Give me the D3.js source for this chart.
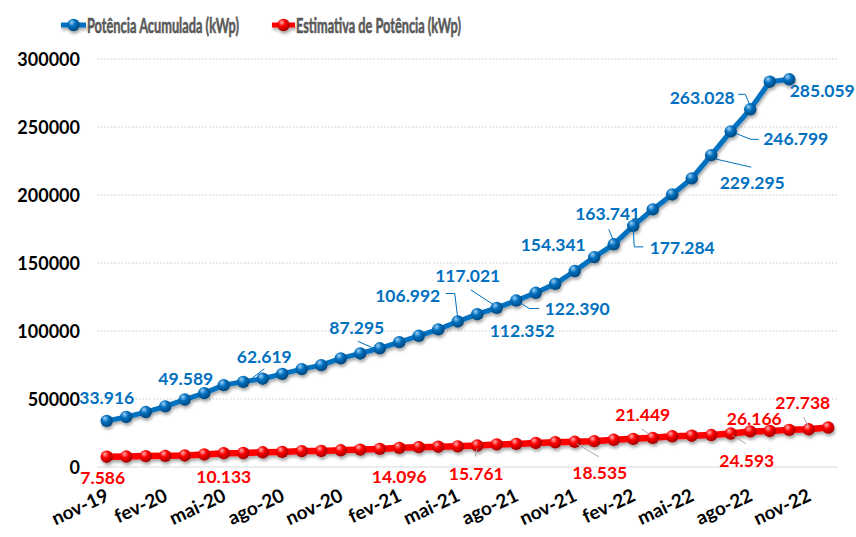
<!DOCTYPE html>
<html><head><meta charset="utf-8">
<script src="https://cdn.jsdelivr.net/npm/d3@7"></script>
<style>
html,body{margin:0;padding:0;background:#fff;}
svg{display:block;font-family:Lato,"Open Sans",sans-serif;}
</style></head>
<body><svg id="c" width="856" height="537"></svg>
<script>
const months = ["nov-19","dez-19","jan-20","fev-20","mar-20","abr-20","mai-20","jun-20","jul-20","ago-20","set-20","out-20",
"nov-20","dez-20","jan-21","fev-21","mar-21","abr-21","mai-21","jun-21","jul-21","ago-21","set-21","out-21",
"nov-21","dez-21","jan-22","fev-22","mar-22","abr-22","mai-22","jun-22","jul-22","ago-22","set-22","out-22","nov-22","dez-22"];
const seriesNames = ["Potência Acumulada (kWp)", "Estimativa de Potência (kWp)"];
const potenciaAcumulada = [33916,36800,40400,44600,49589,54300,60200,62619,64900,68500,72000,74900,
79900,83500,87295,91800,96500,101200,106992,112352,117021,122390,128100,134700,
144100,154341,163741,177284,189400,200400,212200,229295,246799,263028,283300,285059];
const estimativaPotencia = [7586,7700,8000,8200,8500,9200,10133,10300,10800,11100,11700,11800,
12300,12800,13300,14096,14600,14900,15200,15761,16600,17000,17700,18200,
18535,19000,20000,20700,21449,22600,23000,23500,24593,26166,26500,27300,27738,29000];
const yTicks = [0,50000,100000,150000,200000,250000,300000];
const tickMonths = months.filter((d,i)=>i%3===0);
const blueLabelIdx = [0,4,7,14,18,19,20,21,25,26,27,31,32,33,35];
const redLabelIdx = [0,6,15,19,24,28,32,33,36];

// label layout (pixel offsets from the point: label centre, optional leader polyline)
const blueLayout = {
 0:{dx:0,dy:-23}, 4:{dx:1,dy:-21}, 7:{dx:21,dy:-25,ld:[[21,-13],[8,-3]]},
 14:{dx:-23,dy:-20,ld:[[-22,-7],[-6,0]]}, 18:{dx:-50,dy:-26,ld:[[-12,-28],[-3,-28],[0,-3]]},
 19:{dx:45,dy:17}, 20:{dx:-29,dy:-32,ld:[[-26,-18],[-3,-3]]},
 21:{dx:61,dy:8,ld:[[23,8],[13,8],[2,1]]}, 25:{dx:-41,dy:-12},
 26:{dx:-6,dy:-30,ld:[[-5,-15],[0,-3]]}, 27:{dx:49,dy:22,ld:[[0,3],[1,21],[10,21]]},
 31:{dx:41,dy:28,ld:[[40,12],[5,4]]}, 32:{dx:65,dy:8,ld:[[28,8],[20,8],[5,2]]},
 33:{dx:-48,dy:-11,ld:[[-12,-15],[-5,-15],[0,-3]]}, 35:{dx:33,dy:12}
};
const redLayout = {
 0:{dx:-4,dy:21}, 6:{dx:0,dy:24}, 15:{dx:0,dy:29}, 19:{dx:-1,dy:28,ld:[[-2,11],[0,3]]},
 24:{dx:25,dy:31,ld:[[24,15],[2,2]]}, 28:{dx:-10,dy:-23,ld:[[-11,-9],[-3,-3]]},
 32:{dx:16,dy:27,ld:[[15,10],[2,2]]}, 33:{dx:4,dy:-13}, 36:{dx:-6,dy:-26,ld:[[-5,-12],[0,-2]]}
};

const BLUE = "#0070C0", RED = "#FF0000";
const svg = d3.select("#c");
const loc = d3.formatLocale({decimal:",", thousands:".", grouping:[3], currency:["R$",""]});
const fmt = loc.format(",.0f");

const x = d3.scalePoint().domain(months).range([97, 838]).padding(0.5);
const y = d3.scaleLinear().domain([0, 300000]).range([467, 59]);

// defs
const defs = svg.append("defs");
function grad(id, light, base, dark){
  const g = defs.append("radialGradient").attr("id", id).attr("cx","40%").attr("cy","35%").attr("r","65%").attr("fx","35%").attr("fy","28%");
  g.append("stop").attr("offset","0%").attr("stop-color", light);
  g.append("stop").attr("offset","45%").attr("stop-color", base);
  g.append("stop").attr("offset","100%").attr("stop-color", dark);
}
grad("gb", "#9fd0f5", BLUE, "#00467a");
grad("gr", "#ffb0b0", RED, "#a00000");
const f = defs.append("filter").attr("id","sh").attr("x","-20%").attr("y","-20%").attr("width","140%").attr("height","160%");
f.append("feDropShadow").attr("dx",1).attr("dy",2.5).attr("stdDeviation",1.6).attr("flood-color","#000").attr("flood-opacity",0.35);

// gridlines
svg.append("g").selectAll("line").data(yTicks.filter(d=>d>0)).join("line")
  .attr("x1",97).attr("x2",838).attr("y1",d=>y(d)).attr("y2",d=>y(d))
  .attr("stroke","#c8c8c8").attr("stroke-width",1).attr("stroke-dasharray","1.5,2");
svg.append("line").attr("x1",97).attr("x2",838).attr("y1",y(0)).attr("y2",y(0))
  .attr("stroke","#d9d9d9").attr("stroke-width",1);

// y axis
const ya = svg.append("g").attr("transform","translate(80,0)")
  .call(d3.axisLeft(y).tickValues(yTicks).tickFormat(d3.format("d")).tickSize(0).tickPadding(0));
ya.select(".domain").remove();
ya.selectAll("text").attr("font-family","Lato,sans-serif").attr("font-weight","bold").attr("font-size","18px").attr("fill","#000").attr("dy","0.35em");

// x axis
const xa = svg.append("g").attr("transform","translate(0,467)")
  .call(d3.axisBottom(x).tickValues(tickMonths).tickSize(0).tickPadding(0));
xa.select(".domain").remove();
xa.selectAll("text").attr("font-family","Lato,sans-serif").attr("font-weight","bold").attr("font-size","19px").attr("fill","#000")
  .attr("text-anchor","end").attr("y",0).attr("dy",0)
  .attr("transform","translate(3,33) rotate(-25)");

// series
function drawSeries(values, color, gradId, width, cls){
  const g = svg.append("g").attr("class",cls).attr("filter","url(#sh)");
  const line = d3.line().x((d,i)=>x(months[i])).y(d=>y(d));
  g.append("path").datum(values).attr("d", line).attr("fill","none").attr("stroke",color)
    .attr("stroke-width",width).attr("stroke-linejoin","round").attr("stroke-linecap","round");
  g.selectAll("circle").data(values).join("circle")
    .attr("cx",(d,i)=>x(months[i])).attr("cy",d=>y(d)).attr("r",6.2)
    .attr("fill",`url(#${gradId})`);
}
drawSeries(estimativaPotencia, RED, "gr", 6.5, "red");
drawSeries(potenciaAcumulada, BLUE, "gb", 5, "blue");

function drawLabels(values, idxs, layout, color, leaderColor){
  const g = svg.append("g");
  idxs.forEach(i=>{
    const px = x(months[i]), py = y(values[i]);
    const L = layout[i];
    if (L.ld){
      g.append("polyline").attr("points", L.ld.map(p=>[px+p[0], py+p[1]].join(",")).join(" "))
        .attr("fill","none").attr("stroke",leaderColor).attr("stroke-width",1);
    }
    g.append("text").attr("x", px+L.dx).attr("y", py+L.dy).attr("dy","0.35em")
      .attr("text-anchor","middle").attr("font-family","Lato,sans-serif").attr("font-weight","bold")
      .attr("font-size","17.5px").attr("fill",color).text(fmt(values[i]));
  });
}
drawLabels(potenciaAcumulada, blueLabelIdx, blueLayout, BLUE, BLUE);
drawLabels(estimativaPotencia, redLabelIdx, redLayout, RED, "#a6a6a6");

// legend
const legendItems = [
  {name: seriesNames[0], color: BLUE, grad:"gb", x1:61, x2:86, tw:152},
  {name: seriesNames[1], color: RED, grad:"gr", x1:272, x2:295, tw:165}
];
const lg = svg.append("g");
legendItems.forEach(it=>{
  const gg = lg.append("g").attr("filter","url(#sh)");
  gg.append("line").attr("x1",it.x1).attr("x2",it.x2).attr("y1",25).attr("y2",25)
    .attr("stroke",it.color).attr("stroke-width",5);
  gg.append("circle").attr("cx",(it.x1+it.x2)/2).attr("cy",25).attr("r",6.2).attr("fill",`url(#${it.grad})`);
  const t = lg.append("text").attr("x",0).attr("y",0).attr("dy","0.36em")
    .attr("font-family","Lato,sans-serif").attr("font-weight","bold").attr("font-size","21px")
    .attr("fill","#595959").attr("stroke","#595959").attr("stroke-width",0.6).text(it.name);
  const w = t.node().getComputedTextLength();
  t.attr("transform",`translate(${it.x2+1},25) scale(${it.tw/w},1)`);
});
</script></body></html>
